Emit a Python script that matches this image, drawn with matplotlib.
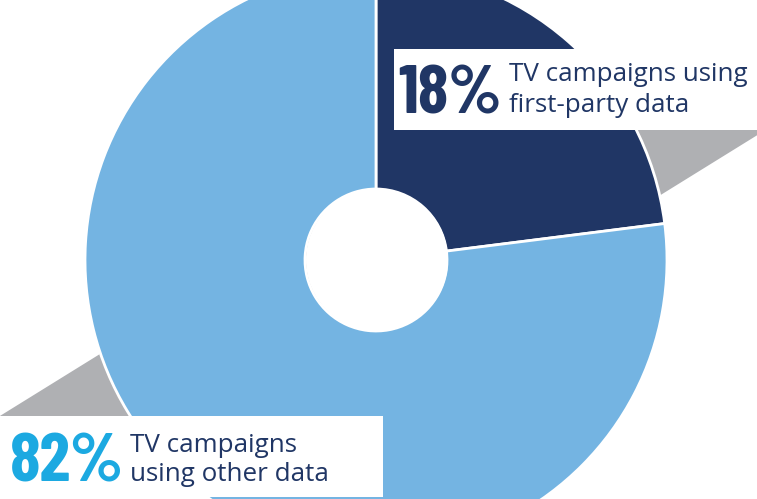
import matplotlib
matplotlib.use("Agg")
import matplotlib.pyplot as plt
from matplotlib.patches import Polygon, Rectangle, Circle

# Data (drawn slice geometry and printed labels)
categories = ["TV campaigns using\nfirst-party data", "TV campaigns\nusing other data"]
pct_labels = ["18%", "82%"]
slice_shares = [23, 77]  # share of the circle as drawn in the graphic

navy = "#203665"
light_blue = "#74b4e2"
gray = "#afb0b3"
cyan = "#1ca9e1"

W, H = 757, 499
fig = plt.figure(figsize=(W / 100, H / 100), dpi=100)
ax = fig.add_axes([0, 0, 1, 1])

def Y(y):
    return H - y

# gray diagonal band behind the pie (hidden ends tucked under the label boxes)
band = [(-55, Y(450)), (510, Y(100)), (814, Y(100)), (249, Y(450))]
ax.add_patch(Polygon(band, closed=True, facecolor=gray, edgecolor="none", zorder=0))

ax.pie(slice_shares, colors=[navy, light_blue], startangle=90, counterclock=False,
       radius=291, center=(376, Y(260)),
       wedgeprops=dict(width=291 - 71, edgecolor="white", linewidth=2))
for p in ax.patches[1:]:
    p.set_zorder(2)
ax.add_patch(Circle((377, Y(260)), 71, facecolor="white", edgecolor="none", zorder=2.5))

# white label boxes
ax.add_patch(Rectangle((394, Y(130)), 380, 81, facecolor="white", edgecolor="none", zorder=3))
ax.add_patch(Rectangle((-10, Y(497)), 393, 81, facecolor="white", edgecolor="none", zorder=3))

big_font = ["Barlow Condensed", "DejaVu Sans"]
lab_font = ["Open Sans", "DejaVu Sans"]

ax.text(398, Y(113), pct_labels[0], fontsize=50, fontweight="bold", family=big_font,
        color=navy, va="baseline", ha="left", zorder=4)
l1 = categories[0].split("\n")
ax.text(509, Y(81), l1[0], fontsize=18.7, family=lab_font, color=navy, va="baseline", zorder=4)
ax.text(509, Y(112), l1[1], fontsize=18.7, family=lab_font, color=navy, va="baseline", zorder=4)

ax.text(10, Y(482), pct_labels[1], fontsize=50, fontweight="bold", family=big_font,
        color=cyan, va="baseline", ha="left", zorder=4)
l2 = categories[1].split("\n")
ax.text(130, Y(452), l2[0], fontsize=18.7, family=lab_font, color=navy, va="baseline", zorder=4)
ax.text(130, Y(481), l2[1], fontsize=18.7, family=lab_font, color=navy, va="baseline", zorder=4)

ax.set_xlim(0, W)
ax.set_ylim(0, H)
ax.set_aspect("equal")
ax.axis("off")
fig.savefig("out.png", dpi=100)
